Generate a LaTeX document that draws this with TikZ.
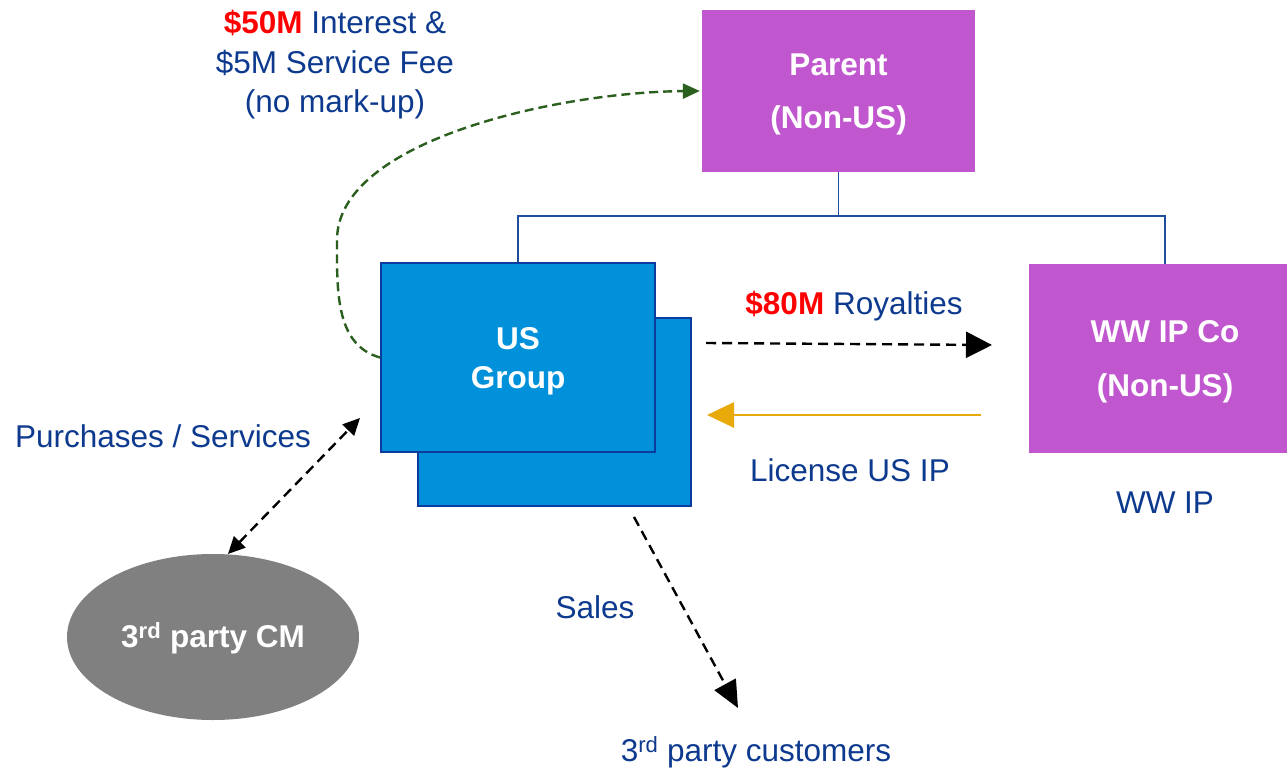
\documentclass[tikz,border=0pt]{standalone}
\usepackage{fontspec}
\setmainfont{Liberation Sans}
\usetikzlibrary{arrows.meta,shapes.geometric,calc}
\definecolor{purp}{HTML}{C157CF}
\definecolor{usfill}{HTML}{0091DA}
\definecolor{usedge}{HTML}{0B3B9C}
\definecolor{txtblue}{HTML}{0D3A8E}
\definecolor{cmgray}{HTML}{808080}
\definecolor{dkgreen}{HTML}{2B5F1E}
\definecolor{orng}{HTML}{E8A90A}
\definecolor{treeblue}{HTML}{1F4E9C}
\begin{document}
\begin{tikzpicture}[x=1pt,y=-1pt,
  bigfont/.style={font=\fontsize{31.5}{39.5}\selectfont},
  boxtext/.style={font=\fontsize{31.5}{39.5}\selectfont\bfseries, text=white, align=center, inner sep=0pt},
  purpbox/.style={fill=purp, draw=none, minimum width=273pt, inner sep=0pt},
  usbox/.style={fill=usfill, draw=usedge, line width=2pt, minimum width=274pt, minimum height=189pt, inner sep=0pt},
  lbl/.style={bigfont, text=txtblue, align=center, inner sep=0pt},
  tree/.style={draw=treeblue, line width=1.4pt},
  blkdash/.style={draw=black, line width=2.4pt, dash pattern=on 10pt off 6pt},
  bighead/.style={-{Triangle[length=26pt,width=26pt]}},
]
\clip (0,0) rectangle (1287,770);
\fill[white] (0,0) rectangle (1287,770);

% boxes
\node[purpbox, minimum height=162pt] (parent) at (838.5,91) {};
\node[boxtext] (parenttxt) at ($(parent.center)+(0,3)$) {Parent\\[13.5pt](Non-US)};
\node[purpbox, minimum width=272pt, minimum height=189pt] (ww) at (1165,358.5) {};
\node[boxtext] (wwtxt) at ($(ww.center)+(0,3)$) {WW IP Co\\[14.5pt](Non-US)};
\node[usbox, minimum width=273pt, minimum height=188pt] (usback) at (554.5,412) {};
\node[usbox] (us) at (518,357.5) {};
\node[boxtext] (ustxt) at ($(us.center)+(0,4)$) {US\\Group};
\node[ellipse, fill=cmgray, minimum width=292pt, minimum height=166pt, inner sep=0pt] (cm) at (213,637) {};
\node[boxtext] (cmtxt) at ($(cm.center)+(0,1)$) {3\textsuperscript{rd} party CM};

% tree
\coordinate (tj) at (838.5,216);
\draw[tree] (parent.south) -- (tj);
\draw[tree] (tj) -| (us.north);
\draw[tree] (tj) -| (ww.north);

% labels
\node[lbl] (lfee) at (335,65) {{\color{red}\bfseries \$50M} Interest \&\\\$5M Service Fee\\(no mark-up)};
\node[lbl] (lroy) at (854,306) {{\color{red}\bfseries \$80M} Royalties};
\node[lbl] (llic) at (850,470) {License US IP};
\node[lbl] (lwwip) at (1165,503) {WW IP};
\node[lbl] (lpur) at (163,436) {Purchases / Services};
\node[lbl] (lsales) at (595,607) {Sales};
\node[lbl] (lcust) at (756,752) {3\textsuperscript{rd} party customers};

% connectors
\draw[draw=dkgreen, line width=2.4pt, dash pattern=on 9pt off 5pt, -{Triangle[length=17pt,width=15pt]}]
  (us.west) .. controls (335,345) and (337,290) .. (337,240)
  .. controls (337,140) and (560,92) .. ([xshift=-2pt]parent.west);

\coordinate (roys) at (706,343);
\coordinate (roye) at (992,345);
\draw[blkdash, bighead] (roys) -- (roye);

\coordinate (lics) at (981,415);
\coordinate (lice) at (707,415);
\draw[draw=orng, line width=2.8pt, -{Triangle[length=27pt,width=25pt]}] (lics) -- (lice);

\coordinate (purA) at (360,418);
\coordinate (purB) at (228,554);
\draw[blkdash, {Triangle[length=17pt,width=16pt]}-{Triangle[length=17pt,width=16pt]}] (purB) -- (purA);

\coordinate (sals) at (634,517);
\coordinate (sale) at (738,708);
\draw[blkdash, -{Triangle[length=27pt,width=24pt]}] (sals) -- (sale);
\end{tikzpicture}
\end{document}
